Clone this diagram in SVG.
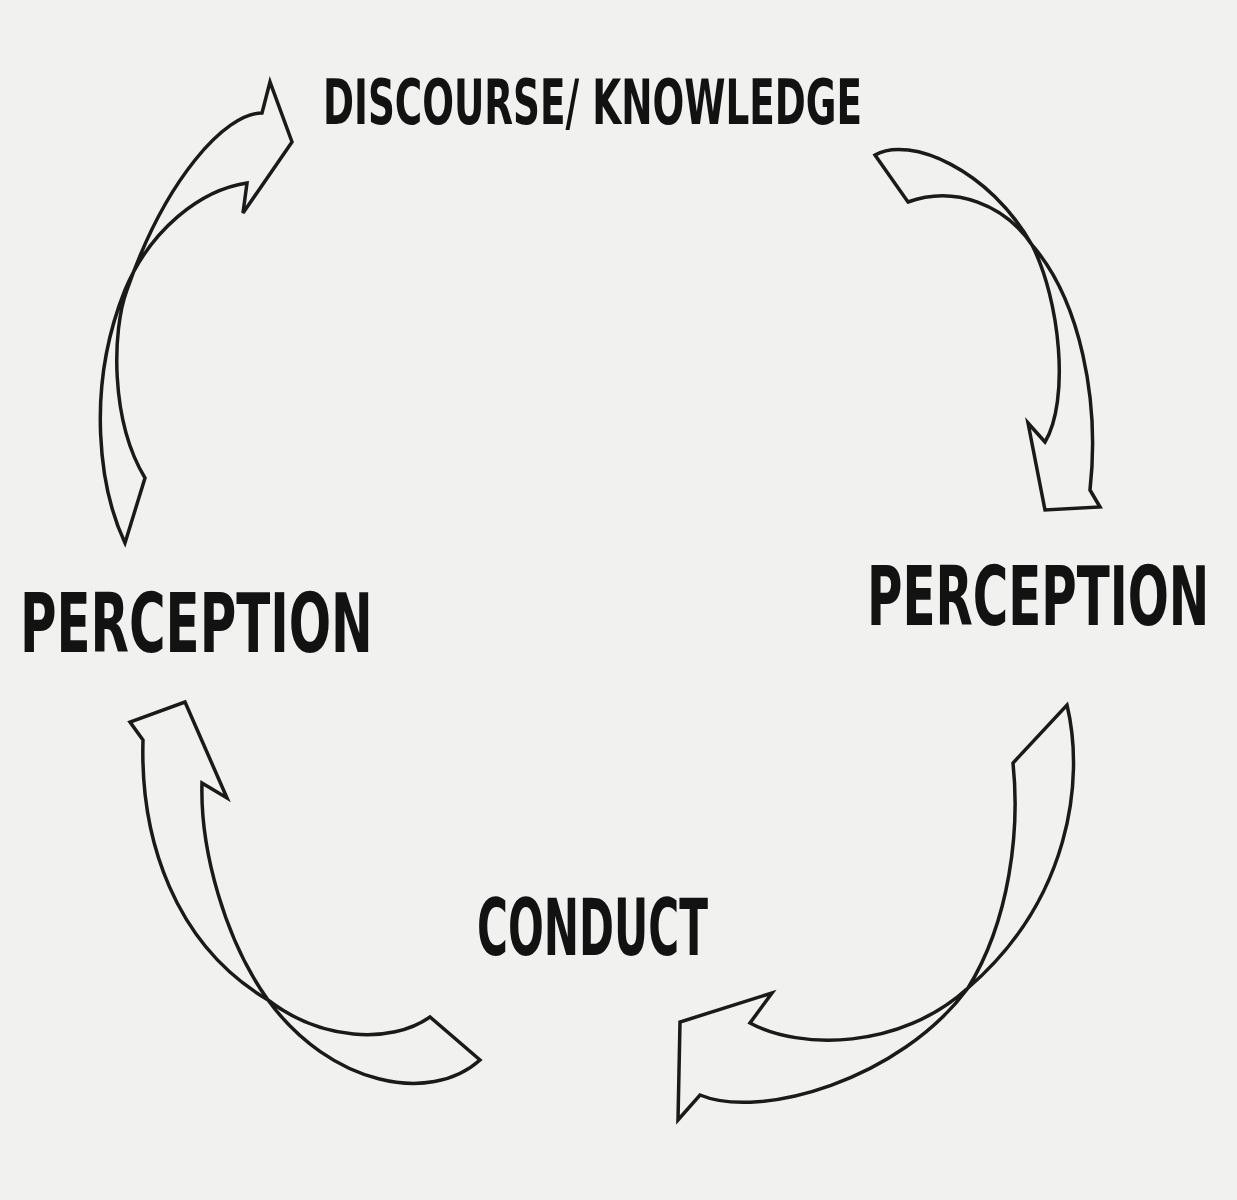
<svg xmlns="http://www.w3.org/2000/svg" width="1237" height="1200" viewBox="0 0 1237 1200">
<style>
.bg{fill:#f1f1f0}
.arrow{fill:none;stroke:#1a1a1a;stroke-width:3.5;stroke-linejoin:miter;stroke-linecap:round}
.lbl{font-family:"DejaVu Sans Condensed","DejaVu Sans","Liberation Sans",sans-serif;font-weight:bold;fill:#121212}
</style>
<rect class="bg" x="0" y="0" width="1237" height="1200"/>
<g id="label-discourse"><text class="lbl" transform="translate(323,124) scale(0.7,1)" x="0" y="0" font-size="62" textLength="770" lengthAdjust="spacingAndGlyphs">DISCOURSE/ KNOWLEDGE</text></g>
<g id="label-perception-left"><text class="lbl" transform="translate(20,652) scale(0.7,1)" x="0" y="0" font-size="82" textLength="504" lengthAdjust="spacingAndGlyphs">PERCEPTION</text></g>
<g id="label-perception-right"><text class="lbl" transform="translate(867,625) scale(0.7,1)" x="0" y="0" font-size="82" textLength="489" lengthAdjust="spacingAndGlyphs">PERCEPTION</text></g>
<g id="label-conduct"><text class="lbl" transform="translate(477,955) scale(0.7,1)" x="0" y="0" font-size="78" textLength="330" lengthAdjust="spacingAndGlyphs">CONDUCT</text></g>
<g id="connectors">
<path id="arrow-top-left" class="arrow" d="M125,543 C100,490 85,390 125,290 C150,230 200,190 247,183 L243,213 L292,142 L270,82 L262,113 C225,113 165,180 127,290 C112,330 110,420 145,478 Z"/>
<path id="arrow-top-right" class="arrow" d="M875,155 C910,135 990,170 1032,245 C1060,300 1070,400 1045,442 L1028,423 L1045,510 L1100,507 L1090,490 C1100,400 1080,300 1032,245 C1005,205 955,185 908,202 Z"/>
<path id="arrow-bottom-right" class="arrow" d="M1067,705 C1085,780 1070,900 968,988 C900,1050 800,1050 750,1023 L772,993 L680,1022 L678,1120 L700,1095 C760,1120 900,1080 968,988 C1010,920 1020,830 1013,763 Z"/>
<path id="arrow-bottom-left" class="arrow" d="M143,740 C140,840 175,945 268,1000 C320,1040 390,1045 430,1017 L480,1060 C430,1105 330,1085 268,1000 C225,940 200,850 202,783 L227,798 L185,702 L130,722 Z"/>
</g>
</svg>
